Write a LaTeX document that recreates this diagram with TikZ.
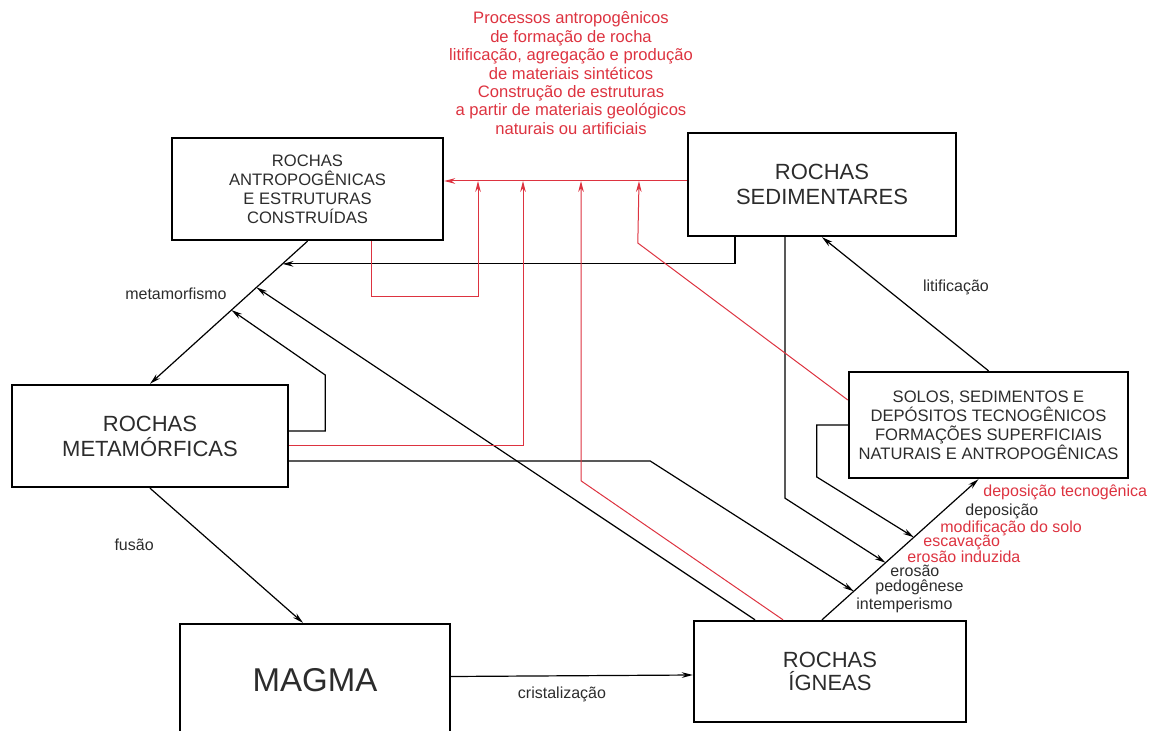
\documentclass[tikz,border=0pt]{standalone}
\usepackage{fontspec}
\setmainfont{Liberation Sans}
\usetikzlibrary{arrows.meta, calc}
\definecolor{rockred}{HTML}{DD3340}
\definecolor{inkgrey}{HTML}{2C2C2C}
\newcommand{\fbig}{\fontsize{11}{12.5}\selectfont}
\newcommand{\fmid}{\fontsize{8.3}{9.5}\selectfont}
\newcommand{\fnote}{\fontsize{8}{8}\selectfont}
\newcommand{\fhead}{\fontsize{8.3}{9.25}\selectfont}
\tikzstyle{rock} = [rectangle, draw=black, line width=1.2pt, align=center, text=inkgrey, inner sep=0pt]
\tikzstyle{arrow} = [line width=0.6pt, ->, >={Stealth[length=5.5pt,width=2.8pt]}]
\tikzstyle{redarrow} = [arrow, draw=rockred, line width=0.5pt]
\tikzstyle{lbl} = [font=\fnote, text=inkgrey, inner sep=0pt]
\tikzstyle{redlbl} = [lbl, text=rockred]

\begin{document}
\begin{tikzpicture}[x=0.5pt, y=-0.5pt]
\useasboundingbox (0,0) rectangle (1165,731);

% ------------------------- nodes -------------------------
% ----- rochas antropogenicas
\node(ant)[rock, minimum width=135.5pt, minimum height=51pt, font=\fmid] at (307.5,189) {ROCHAS\\ANTROPOGÊNICAS\\E ESTRUTURAS\\CONSTRUÍDAS};
% ----- rochas sedimentares
\node(sed)[rock, minimum width=134pt, minimum height=51.5pt, font=\fbig] at (822,184.5) {ROCHAS\\SEDIMENTARES};
% ----- rochas metamorficas
\node(met)[rock, minimum width=138pt, minimum height=51pt, font=\fbig] at (150,436) {ROCHAS\\METAMÓRFICAS};
% ----- solos e depositos
\node(solos)[rock, minimum width=139.5pt, minimum height=53pt, font=\fmid] at (988.5,425) {SOLOS, SEDIMENTOS E\\DEPÓSITOS TECNOGÊNICOS\\FORMAÇÕES SUPERFICIAIS\\NATURAIS E ANTROPOGÊNICAS};
% ----- magma
\node(magma)[rock, minimum width=135pt, minimum height=56pt, font=\fontsize{16.5}{18}\selectfont] at (315,680) {MAGMA};
% ----- rochas igneas
\node(ign)[rock, minimum width=136pt, minimum height=50.5pt, font=\fontsize{11}{11.5}\selectfont] at (830,671.5) {ROCHAS\\ÍGNEAS};

% ----- red processes text
\node(head1)[redlbl, align=center, font=\fhead] at (571,45.5) {Processos antropogênicos\\de formação de rocha\\litificação, agregação e produção\\de materiais sintéticos};
\node(head2)[redlbl, align=center, font=\fhead] at (571,110) {Construção de estruturas\\a partir de materiais geológicos\\naturais ou artificiais};

% ----- process labels along the deposition line
\node[redlbl, anchor=west] at (983,492) {deposição tecnogênica};
\node[lbl, anchor=west] at (965,511) {deposição};
\node[redlbl, anchor=west] at (940,528) {modificação do solo};
\node[redlbl, anchor=west] at (923,542) {escavação};
\node[redlbl, anchor=west] at (907,557) {erosão induzida};
\node[lbl, anchor=west] at (890,571) {erosão};
\node[lbl, anchor=west] at (875,587) {pedogênese};
\node[lbl, anchor=west] at (856,605) {intemperismo};

% ----- junctions
\coordinate (m1) at ($(ant.south)!0.159!(met.north)$);
\coordinate (m2) at ($(ant.south)!0.324!(met.north)$);
\coordinate (m3) at ($(ant.south)!0.483!(met.north)$);
\coordinate (d0) at ([xshift=-4pt]ign.north);
\coordinate (d1) at ([xshift=-5pt]solos.south);
\coordinate (k1) at ($(d0)!0.587!(d1)$);
\coordinate (k2) at ($(d0)!0.406!(d1)$);
\coordinate (k3) at ($(d0)!0.203!(d1)$);
\coordinate (r1) at (478,181);
\coordinate (r2) at (523,181);
\coordinate (r3) at (581,181);
\coordinate (r4) at (639,181);

% ------------------------- connections -------------------------
\draw[arrow](ant.south)--node[lbl, pos=0.37, left=11pt]{metamorfismo}(met.north);
\draw[arrow]([xshift=-43.5pt]sed.south)|-(m1);
\draw[arrow]([xshift=-37.5pt]ign.north)--(m2);
\draw[arrow]([yshift=2.5pt]met.east)--++(36,0)--++(0,-56)--(m3);
\draw[arrow]([yshift=-12.5pt]met.east)--++(361,0)--(k3);
\draw[arrow]([xshift=-18.5pt]sed.south)--++(0,261)--(k2);
\draw[arrow](solos.west)--++(-31,0)--++(0,52)--(k1);
\draw[arrow](d0)--(d1);
\draw[arrow](solos.north)--node[lbl, pos=0.625, right=19pt]{litificação}(sed.south);
\draw[arrow](met.south)--node[lbl, pos=0.42, left=30pt]{fusão}([xshift=-6pt]magma.north);
\draw[arrow]([yshift=1.75pt]magma.east)--node[lbl, midway, below=5.5pt, xshift=-5pt]{cristalização}([yshift=-1.75pt]ign.west);

% red: anthropogenic formation
\draw[redarrow]([yshift=1.75pt]sed.west)--([yshift=4pt]ant.east);
\draw[redarrow]([xshift=32pt]ant.south)--++(0,55)-|(r1);
\draw[redarrow]([yshift=-4.5pt]met.east)-|(r2);
\draw[redarrow]([xshift=-23.5pt]ign.north)--++(-202,-139)--(r3);
\draw[redarrow]([yshift=12.5pt]solos.west)--++(-210,-157)--(r4);
\end{tikzpicture}
\end{document}
